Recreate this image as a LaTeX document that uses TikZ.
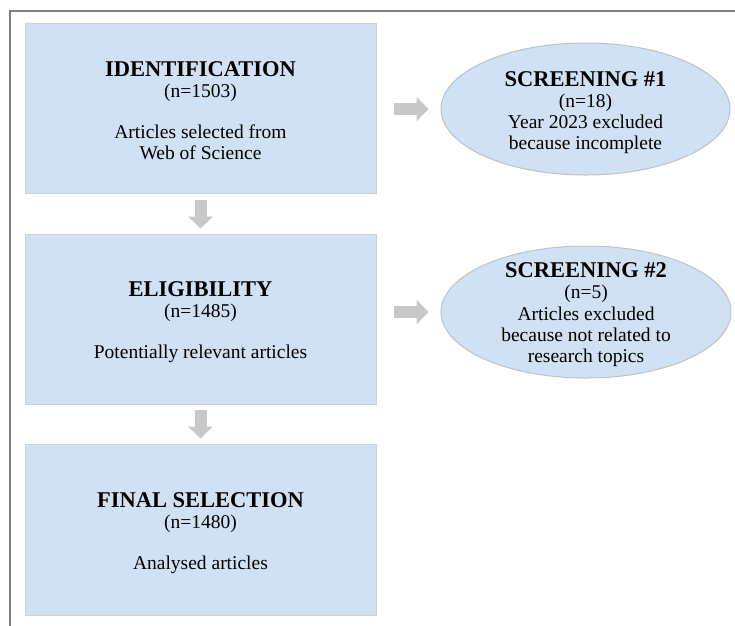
\documentclass[tikz,border=0pt]{standalone}
\usepackage{fontspec}
\setmainfont{Liberation Serif}
\usetikzlibrary{shapes.geometric,arrows.meta}
\definecolor{boxfill}{RGB}{207,225,242}
\definecolor{boxline}{RGB}{205,210,215}
\definecolor{ellline}{RGB}{185,195,205}
\definecolor{arrowgray}{RGB}{200,200,200}
\definecolor{framegray}{RGB}{128,128,128}
\tikzset{
  stagebox/.style={draw=boxline, line width=1pt, fill=boxfill, minimum width=351pt, minimum height=170pt, inner sep=0pt},
  stagetext/.style={inner sep=0pt, align=center, font=\fontsize{19.5}{21}\selectfont},
  screenell/.style={ellipse, draw=ellline, line width=1pt, fill=boxfill, inner sep=0pt},
  screentext/.style={inner sep=0pt, align=center, font=\fontsize{19.5}{21.3}\selectfont},
  blockarrow/.style={arrowgray, line width=12pt, -{Triangle[width=24pt,length=12pt]}}
}
\newcommand{\stagetitle}[1]{{\fontsize{22.5}{21}\selectfont\bfseries #1}}
\begin{document}
\begin{tikzpicture}[x=1pt,y=-1pt]
\useasboundingbox (0,0) rectangle (735,625);
\draw[framegray, line width=2pt] (9.5,626) -- (9.5,11) -- (736,11);

\node[stagebox] (id) at (200.5,108) {};
\node[stagebox] (el) at (200.5,319) {};
\node[stagebox, minimum height=171pt] (fs) at (200.5,529.5) {};
\node[stagetext] (idt) at (200.5,111.1) {\stagetitle{IDENTIFICATION}\\(n=1503)\\[20pt]Articles selected from\\Web of Science};
\node[stagetext] (elt) at (200.5,322.6) {\stagetitle{ELIGIBILITY}\\(n=1485)\\[20pt]Potentially relevant articles};
\node[stagetext] (fst) at (200.5,532.9) {\stagetitle{FINAL SELECTION}\\(n=1480)\\[20pt]Analysed articles};

\node[screenell, minimum width=289pt, minimum height=132pt] (s1) at (585.5,109) {};
\node[screenell, minimum width=290pt, minimum height=132pt] (s2) at (586,312) {};
\node[screentext] (s1t) at (585.5,112.6) {\stagetitle{SCREENING \#1}\\(n=18)\\Year 2023 excluded\\because incomplete};
\node[screentext] (s2t) at (586,314.8) {\stagetitle{SCREENING \#2}\\(n=5)\\Articles excluded\\because not related to\\research topics};

\draw[blockarrow, shorten <=6pt, shorten >=5pt] (id.south) -- (el.north);
\draw[blockarrow, shorten <=5pt, shorten >=5pt] (el.south) -- (fs.north);
\draw[blockarrow, shorten <=17pt, shorten >=12pt] (s1.west -| id.east) -- (s1.west);
\draw[blockarrow, shorten <=17pt, shorten >=12pt] (s2.west -| el.east) -- (s2.west);
\end{tikzpicture}
\end{document}
